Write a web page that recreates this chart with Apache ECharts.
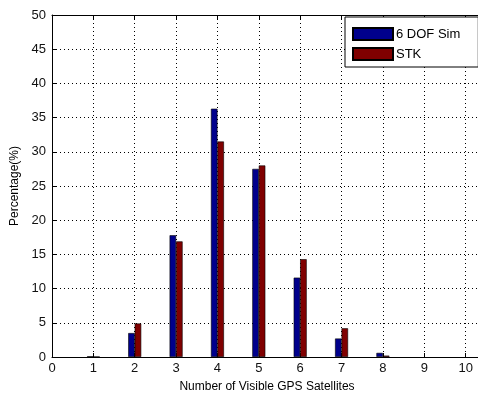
<!DOCTYPE html>
<html>
<head>
<meta charset="utf-8">
<script src="https://cdn.jsdelivr.net/npm/echarts@6/dist/echarts.min.js"></script>
<style>
  html, body { margin: 0; padding: 0; background: #fff; }
  #chart { width: 478px; height: 393px; }
</style>
</head>
<body>
<div id="chart"></div>
<script>
// Visible satellite counts and the share of time (%) for each source
const satCounts = [1, 2, 3, 4, 5, 6, 7, 8];
const simPct = [0.1, 3.5, 17.8, 36.3, 27.5, 11.6, 2.7, 0.6];
const stkPct = [0.05, 4.9, 16.9, 31.5, 28.0, 14.3, 4.2, 0.2];
const seriesNames = ['6 DOF Sim', 'STK'];

const pairs = (vals) => satCounts.map((c, i) => [c, vals[i]]);

const chart = echarts.init(document.getElementById('chart'));
const textFont = 'Liberation Sans, Arial, sans-serif';
const gridLine = { show: true, lineStyle: { color: '#000', type: [1, 3], width: 1 } };

chart.setOption({
  animation: false,
  backgroundColor: '#fff',
  grid: { left: 52, top: 15, right: -29, bottom: 36, containLabel: false, outerBoundsMode: 'none' },
  legend: {
    orient: 'vertical',
    left: 345, top: 17,
    data: seriesNames,
    itemWidth: 40, itemHeight: 12, itemGap: 6,
    padding: [10, 18, 6, 7],
    backgroundColor: '#fff',
    borderColor: '#000', borderWidth: 1,
    borderRadius: 0,
    icon: 'rect',
    textStyle: { fontFamily: textFont, fontSize: 13, color: '#000', padding: [0, 0, 0, -2] }
  },
  xAxis: [{
    type: 'value', min: 0, max: 11, interval: 1,
    name: 'Number of Visible GPS Satellites',
    nameLocation: 'middle', nameGap: 24,
    nameTextStyle: {
      fontFamily: textFont, fontSize: 12, color: '#000',
      padding: [0, 25, 0, 0]
    },
    axisLine: { show: true, lineStyle: { color: '#000', width: 1 } },
    axisTick: { show: true, inside: true, length: 4, lineStyle: { color: '#000' } },
    axisLabel: {
      fontFamily: textFont, fontSize: 13, color: '#111', margin: 5,
      formatter: (v) => (v <= 10 ? String(v) : '')
    },
    splitLine: gridLine
  }, {
    type: 'value', min: 0, max: 11, interval: 1, position: 'top',
    axisLine: { show: true, lineStyle: { color: '#000', width: 1 } },
    axisTick: { show: true, inside: true, length: 4, lineStyle: { color: '#000' } },
    axisLabel: { show: false },
    splitLine: { show: false }
  }],
  yAxis: [{
    type: 'value', min: 0, max: 50, interval: 5,
    name: 'Percentage(%)',
    nameLocation: 'middle', nameGap: 25,
    nameTextStyle: { fontFamily: textFont, fontSize: 12, color: '#000' },
    axisLine: { show: true, lineStyle: { color: '#000', width: 1 } },
    axisTick: { show: true, inside: true, length: 4, lineStyle: { color: '#000' } },
    axisLabel: { fontFamily: textFont, fontSize: 13, color: '#111', margin: 6 },
    splitLine: gridLine
  }],
  series: [{
    name: seriesNames[0], type: 'bar', xAxisIndex: 0,
    data: pairs(simPct),
    barWidth: 6.5, barGap: '0%',
    itemStyle: { color: '#00008c', borderColor: '#000', borderWidth: 0.6 }
  }, {
    name: seriesNames[1], type: 'bar', xAxisIndex: 0,
    data: pairs(stkPct),
    barWidth: 6.5, barGap: '0%',
    itemStyle: { color: '#800000', borderColor: '#000', borderWidth: 0.6 }
  }]
});
</script>
</body>
</html>
